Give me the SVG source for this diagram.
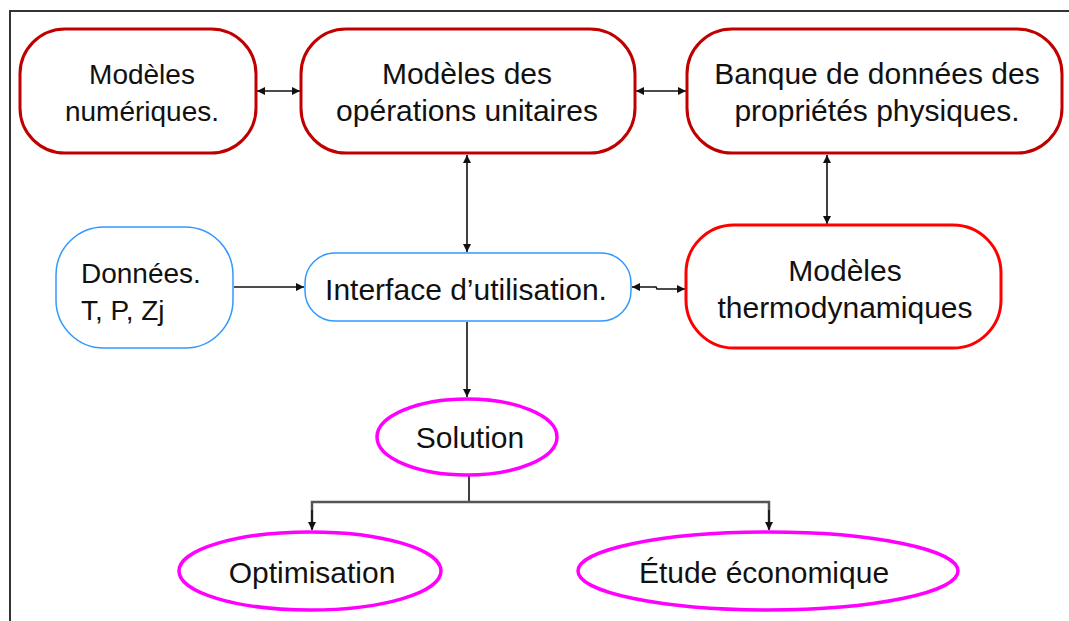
<svg xmlns="http://www.w3.org/2000/svg" width="1069" height="621" viewBox="0 0 1069 621">
<style>
text{font-family:"Liberation Sans",Arial,sans-serif;font-size:30px;fill:#111;}
.c{text-anchor:middle;}
.s{font-size:28px;}
.dr{fill:#fff;stroke:#c00000;stroke-width:3;}
.rr{fill:#fff;stroke:#ff0000;stroke-width:3;}
.bl{fill:#fff;stroke:#3399ff;stroke-width:1.5;}
.mg{fill:#fff;stroke:#ff00ff;stroke-width:3.5;}
.ln{fill:none;stroke:#111;stroke-width:1.6;}
</style>
<defs>
<marker id="ah" viewBox="0 0 10 10" refX="10" refY="5" markerWidth="9" markerHeight="8" markerUnits="userSpaceOnUse" orient="auto-start-reverse">
<path d="M0,0 L10,5 L0,10 Z" fill="#111"/>
</marker>
</defs>
<rect width="1069" height="621" fill="#fff"/>
<path d="M10,621 V11 H1069" fill="none" stroke="#333" stroke-width="2"/>
<g id="connectors">
<line class="ln" x1="257" y1="91" x2="300" y2="91" marker-start="url(#ah)" marker-end="url(#ah)"/>
<line class="ln" x1="636" y1="91" x2="686" y2="91" marker-start="url(#ah)" marker-end="url(#ah)"/>
<line class="ln" x1="467" y1="155" x2="467" y2="252" marker-start="url(#ah)" marker-end="url(#ah)"/>
<line class="ln" x1="827" y1="155" x2="827" y2="224" marker-start="url(#ah)" marker-end="url(#ah)"/>
<line class="ln" x1="234" y1="287" x2="304" y2="287" marker-end="url(#ah)"/>
<polyline class="ln" points="632,287 656,287 657,289 685,289" marker-start="url(#ah)" marker-end="url(#ah)"/>
<line class="ln" x1="467" y1="322" x2="467" y2="397" marker-end="url(#ah)"/>
<line class="ln" x1="469" y1="476" x2="469" y2="502"/>
<polyline fill="none" stroke="#555" stroke-width="2.5" points="312,529 312,502 769,502 769,529"/>
<line class="ln" x1="312" y1="510" x2="312" y2="530" marker-end="url(#ah)"/>
<line class="ln" x1="769" y1="510" x2="769" y2="530" marker-end="url(#ah)"/>
</g>
<g id="n-numeriques">
<rect class="dr" x="20" y="29" width="236" height="124" rx="45"/>
<text class="c s" x="142" y="84">Modèles</text>
<text class="c s" x="142" y="121">numériques.</text>
</g>
<g id="n-operations">
<rect class="dr" x="301" y="29" width="334" height="124" rx="45"/>
<text class="c" x="467" y="84">Modèles des</text>
<text class="c" x="467" y="121">opérations unitaires</text>
</g>
<g id="n-banque">
<rect class="dr" x="687" y="29" width="375" height="124" rx="45"/>
<text class="c" x="877" y="84">Banque de données des</text>
<text class="c" x="877" y="121">propriétés physiques.</text>
</g>
<g id="n-donnees">
<rect class="bl" x="56" y="227" width="177" height="121" rx="48"/>
<text class="s" x="81" y="283">Données.</text>
<text class="s" x="81" y="320">T, P, Zj</text>
</g>
<g id="n-interface">
<rect class="bl" x="305" y="253" width="326" height="68" rx="30"/>
<text class="c" x="466" y="300">Interface d’utilisation.</text>
</g>
<g id="n-thermo">
<rect class="rr" x="686" y="225" width="315" height="123" rx="48"/>
<text class="c" x="845" y="281">Modèles</text>
<text class="c" x="845" y="318">thermodynamiques</text>
</g>
<g id="n-solution">
<ellipse class="mg" cx="467" cy="437" rx="90" ry="38"/>
<text class="c" x="470" y="448">Solution</text>
</g>
<g id="n-optimisation">
<ellipse class="mg" cx="310" cy="571" rx="131" ry="39"/>
<text class="c" x="312" y="583">Optimisation</text>
</g>
<g id="n-etude">
<ellipse class="mg" cx="768" cy="571" rx="190" ry="39"/>
<text class="c" x="764" y="583">Étude économique</text>
</g>
</svg>
